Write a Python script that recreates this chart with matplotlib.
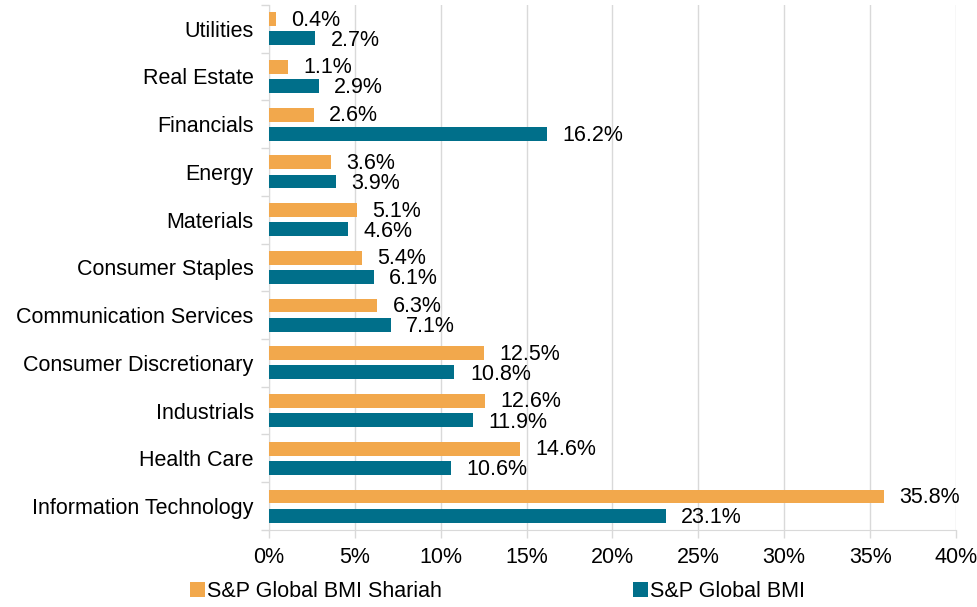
import numpy as np
import matplotlib.pyplot as plt
from matplotlib.ticker import FixedLocator

sectors = ['Information Technology', 'Health Care', 'Industrials', 'Consumer Discretionary',
           'Communication Services', 'Consumer Staples', 'Materials', 'Energy',
           'Financials', 'Real Estate', 'Utilities']
shariah = [35.8, 14.6, 12.6, 12.5, 6.3, 5.4, 5.1, 3.6, 2.6, 1.1, 0.4]
bmi = [23.1, 10.6, 11.9, 10.8, 7.1, 6.1, 4.6, 3.9, 16.2, 2.9, 2.7]
xticks = [0, 5, 10, 15, 20, 25, 30, 35, 40]

orange = '#F2A84C'
teal = '#006F8A'
grid_c = '#D9D9D9'
fs = 15.5

plt.rcParams['font.family'] = ['Liberation Sans', 'DejaVu Sans']
fig = plt.figure(figsize=(9.78, 6.07), dpi=100)
ax = fig.add_axes([0.275, 0.127, 0.7025, 0.865])

y = np.arange(len(sectors))
h = 0.29
off = 0.2
ax.barh(y + off, shariah, height=h, color=orange, label='S&P Global BMI Shariah', zorder=3)
ax.barh(y - off, bmi, height=h, color=teal, label='S&P Global BMI', zorder=3)

# value labels to the right of each bar
for yi, v in zip(y, shariah):
    ax.text(v + 0.9, yi + off - 0.02, f'{v:.1f}%', va='center', ha='left', fontsize=fs, color='black')
for yi, v in zip(y, bmi):
    ax.text(v + 0.9, yi - off - 0.04, f'{v:.1f}%', va='center', ha='left', fontsize=fs, color='black')

ax.set_xlim(0, 40)
ax.set_ylim(-0.5, len(sectors) - 0.5)
ax.set_xticks(xticks)
ax.set_xticklabels([f'{t}%' for t in xticks], fontsize=fs)
ax.set_yticks(y)
ax.set_yticklabels(sectors, fontsize=fs)
ax.yaxis.set_minor_locator(FixedLocator(np.arange(-0.5, len(sectors), 1)))
ax.tick_params(axis='y', which='major', length=0, pad=11)
ax.tick_params(axis='y', which='minor', length=6, color=grid_c, width=1)
ax.tick_params(axis='x', length=6, color=grid_c, width=1, pad=6)

ax.grid(axis='x', color=grid_c, linewidth=1, zorder=0)
for s in ['top', 'right']:
    ax.spines[s].set_visible(False)
ax.spines['left'].set_color(grid_c)
ax.spines['bottom'].set_color(grid_c)

fig.legend(loc='lower left', bbox_to_anchor=(0.174, -0.023), ncol=2, frameon=False,
           fontsize=fs, handlelength=0.7, handleheight=0.7, handletextpad=0.1,
           columnspacing=8.9)

fig.savefig('out.png', dpi=100)
